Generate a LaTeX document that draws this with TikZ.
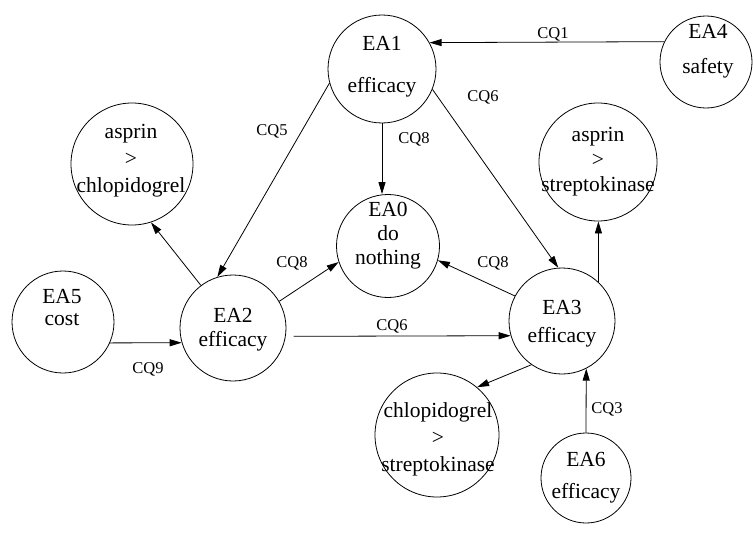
\documentclass[tikz,border=0pt]{standalone}
\usepackage{fontspec}
\setmainfont{Liberation Serif}
\usetikzlibrary{arrows.meta, calc}

\begin{document}
\begin{tikzpicture}[
    x=1pt, y=-1pt,
    state/.style={circle, draw, line width=0.8pt, inner sep=0pt},
    txt/.style={align=center, inner sep=0pt, font=\fontsize{21.5}{24}\selectfont},
    lbl/.style={inner sep=1pt, font=\fontsize{16.5}{19}\selectfont},
    line/.style={draw, line width=0.8pt, -{Triangle[length=12pt,width=7pt]}}
]
\useasboundingbox (0,0) rectangle (753,538);
% Circles
\node [state, minimum size=108pt] (ea1) at (382,69) {};
\node [state, minimum size=92pt] (ea4) at (706,62) {};
\node [state, minimum size=118pt] (as) at (598,162) {};
\node [state, minimum size=122pt] (ac) at (132,164) {};
\node [state, minimum size=103pt] (ea0) at (388,246) {};
\node [state, minimum size=102pt] (ea5) at (63,322) {};
\node [state, minimum size=106pt] (ea2) at (233,328) {};
\node [state, minimum size=106pt] (ea3) at (562,321) {};
\node [state, minimum size=124pt] (cs) at (437,435) {};
\node [state, minimum size=90pt] (ea6) at (586,478) {};

% Texts
\node [txt] (t1) at (382,67) {EA1\\[18pt]efficacy};
\node [txt] (t4) at (708,51) {EA4\\[11pt]safety};
\node [txt] (tas) at (598,162) {asprin\\[1pt]>\\[1pt]streptokinase};
\node [txt] (tac) at (131,161) {asprin\\[3pt]>\\[3pt]chlopidogrel};
\node [txt] (t0) at (388,236) {EA0\\do\\nothing};
\node [txt] (t5) at (62,308) {EA5\\[-2pt]cost};
\node [txt] (t2) at (233,330) {EA2\\[0pt]efficacy};
\node [txt] (t3) at (562,324) {EA3\\[4pt]efficacy};
\node [txt] (tcs) at (438,439) {chlopidogrel\\[3pt]>\\[3pt]streptokinase};
\node [txt] (t6) at (586,478) {EA6\\[8pt]efficacy};

% Edges
\path [line] (ea4.154) -- (ea1.29);
\path [line] (ea1.south) -- (ea1.south |- ea0.north);
\path [line] (ea1.195) -- (ea2.107);
\path [line] (ea1.-22) -- (ea3.94);
\path [line] (ea2.127) -- (ac.-72);
\path [line] (ea2.30) -- (ea0.198);
\path [line] (ea3.152) -- (ea0.-16);
\path [line, shorten <=8pt] (ea2.-9) -- (ea3.196);
\path [line] (ea5.-24) -- (ea2.196);
\path [line] (ea3.47) -- (ea3.47 |- as.south);
\path [line] (ea3.-125) -- (cs.50);
\path [line] (ea6.north) -- (ea3.-63);

% Labels
\node [lbl] (q1) at (553,34) {CQ1};
\node [lbl] (q8a) at (414,139) {CQ8};
\node [lbl] (q5) at (272,131) {CQ5};
\node [lbl] (q6a) at (483,97) {CQ6};
\node [lbl] (q8b) at (292,263) {CQ8};
\node [lbl] (q8c) at (493,263) {CQ8};
\node [lbl] (q6b) at (392,326) {CQ6};
\node [lbl] (q9) at (148,369) {CQ9};
\node [lbl] (q3) at (607,409) {CQ3};
\end{tikzpicture}
\end{document}
